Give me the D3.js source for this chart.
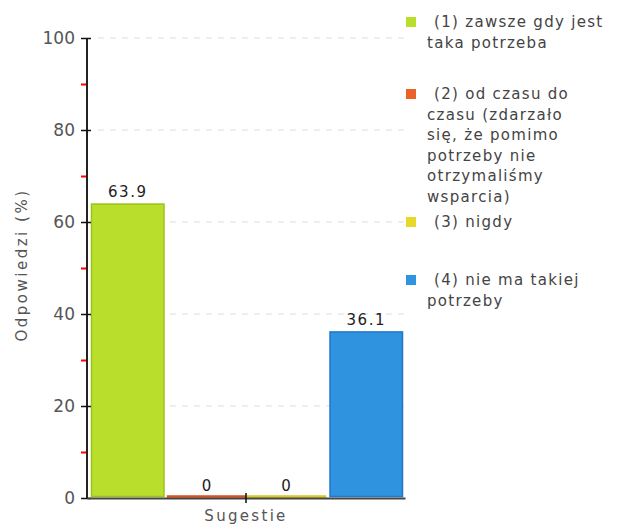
<!DOCTYPE html>
<html>
<head>
<meta charset="utf-8">
<script src="https://cdn.jsdelivr.net/npm/d3@7"></script>
<style>
  body { margin: 0; background: #fff; }
  text { font-family: "DejaVu Sans", Verdana, sans-serif; }
</style>
</head>
<body>
<script>
var categories = ["Sugestie"];
var keys = ["(1) zawsze gdy jest taka potrzeba", "(2) od czasu do czasu (zdarzało się, że pomimo potrzeby nie otrzymaliśmy wsparcia)", "(3) nigdy", "(4) nie ma takiej potrzeby"];
var values = [63.9, 0, 0, 36.1];
var yTicks = [0, 20, 40, 60, 80, 100];
var legendLines = [
  ["(1) zawsze gdy jest", "taka potrzeba"],
  ["(2) od czasu do", "czasu (zdarzało", "się, że pomimo", "potrzeby nie", "otrzymaliśmy", "wsparcia)"],
  ["(3) nigdy"],
  ["(4) nie ma takiej", "potrzeby"]
];
var fills = ["#b9de2c", "#e8622a", "#e6d92a", "#2f93e0"];
var strokes = ["#9cc21a", "#d9501c", "#d6c81c", "#1f78c8"];

var svg = d3.select("body").append("svg").attr("width", 632).attr("height", 527),
    margin = {top: 38, left: 87},
    width = 318,
    height = 460,
    g = svg.append("g").attr("transform", "translate(" + margin.left + "," + margin.top + ")");

var x0 = d3.scaleBand().domain(categories).range([0, width]);
var x1 = d3.scaleBand().domain(keys).range([0, x0.bandwidth()]);
var y = d3.scaleLinear().domain([0, 100]).range([height, 0]);

// grid
g.append("g")
  .selectAll("line")
  .data(yTicks.slice(1))
  .enter().append("line")
    .attr("x1", 11).attr("x2", width)
    .attr("y1", function(d) { return y(d); })
    .attr("y2", function(d) { return y(d); })
    .attr("stroke", "#dcdcdc")
    .attr("stroke-dasharray", "6,6");

// bars
var bars = g.append("g")
  .selectAll("g")
  .data(categories)
  .enter().append("g")
    .attr("transform", function(d) { return "translate(" + x0(d) + ",0)"; });

bars.selectAll("rect")
  .data(keys.map(function(k, i) { return {key: k, value: values[i], i: i}; }))
  .enter().append("rect")
    .attr("x", function(d) { return x1(d.key) + (d.value > 0 ? 4.5 : 1); })
    .attr("width", function(d) { return x1.bandwidth() - (d.value > 0 ? 7 : 1); })
    .attr("y", function(d) { return d.value > 0 ? y(d.value) : height - 2; })
    .attr("height", function(d) { return d.value > 0 ? height - y(d.value) - 1.5 : 1; })
    .attr("fill", function(d) { return fills[d.i]; })
    .attr("stroke", function(d) { return strokes[d.i]; })
    .attr("stroke-width", 1.5);

bars.selectAll(".val")
  .data(keys.map(function(k, i) { return {key: k, value: values[i]}; }))
  .enter().append("text")
    .attr("class", "val")
    .attr("x", function(d) { return x1(d.key) + x1.bandwidth() / 2 + 1; })
    .attr("y", function(d) { return y(d.value) - 7; })
    .attr("text-anchor", "middle")
    .attr("font-size", 15)
    .attr("letter-spacing", 1.5)
    .attr("fill", "#222")
    .text(function(d) { return d3.format(".1~f")(d.value); });

// minor ticks
g.append("g")
  .selectAll("line")
  .data(d3.range(10, 100, 20))
  .enter().append("line")
    .attr("x1", -6).attr("x2", 0)
    .attr("y1", function(d) { return Math.round(y(d)) + 0.5; })
    .attr("y2", function(d) { return Math.round(y(d)) + 0.5; })
    .attr("stroke", "#ff0000")
    .attr("stroke-width", 2);

// y axis
var yAxis = g.append("g")
    .call(d3.axisLeft(y).tickValues(yTicks).tickSize(6).tickPadding(6));
yAxis.select(".domain").attr("stroke", "#222").attr("stroke-width", 2).attr("d", "M0," + height + "V0");
yAxis.selectAll(".tick line").attr("x1", 4).attr("x2", -6).attr("stroke", "#111").attr("stroke-width", 1.5);
yAxis.selectAll(".tick text").attr("font-size", 17).attr("fill", "#555").attr("font-family", "DejaVu Sans, sans-serif");

// x axis
var xAxis = g.append("g")
    .attr("transform", "translate(0," + height + ")")
    .call(d3.axisBottom(x0).tickSize(4).tickSizeOuter(0).tickFormat(""));
xAxis.select(".domain").attr("stroke", "#444").attr("stroke-width", 2);
xAxis.selectAll(".tick line").attr("y1", -5).attr("y2", 5).attr("stroke", "#111").attr("stroke-width", 1.5);

g.append("text")
  .attr("x", width / 2)
  .attr("y", height + 23)
  .attr("text-anchor", "middle")
  .attr("font-size", 15)
  .attr("letter-spacing", 2.3)
  .attr("fill", "#555")
  .text("Sugestie");

g.append("text")
  .attr("transform", "translate(-60," + (height / 2 - 3) + ") rotate(-90)")
  .attr("text-anchor", "middle")
  .attr("font-size", 15)
  .attr("letter-spacing", 2.5)
  .attr("fill", "#555")
  .text("Odpowiedzi (%)");

// legend
var legendY = [22, 94, 222, 280];
var legend = svg.append("g")
  .selectAll("g")
  .data(keys)
  .enter().append("g")
    .attr("transform", function(d, i) { return "translate(406," + legendY[i] + ")"; });

legend.append("rect")
  .attr("x", 0).attr("y", -5)
  .attr("width", 10).attr("height", 10)
  .attr("fill", function(d, i) { return fills[i]; });

legend.append("text")
  .attr("font-size", 15)
  .attr("letter-spacing", 1.3)
  .attr("fill", "#444")
  .selectAll("tspan")
  .data(function(d, i) { return legendLines[i]; })
  .enter().append("tspan")
    .attr("x", function(d, j) { return j === 0 ? 28 : 21; })
    .attr("y", function(d, j) { return j * 20.5; })
    .attr("dy", "0.35em")
    .text(function(d) { return d; });
</script>
</body>
</html>
